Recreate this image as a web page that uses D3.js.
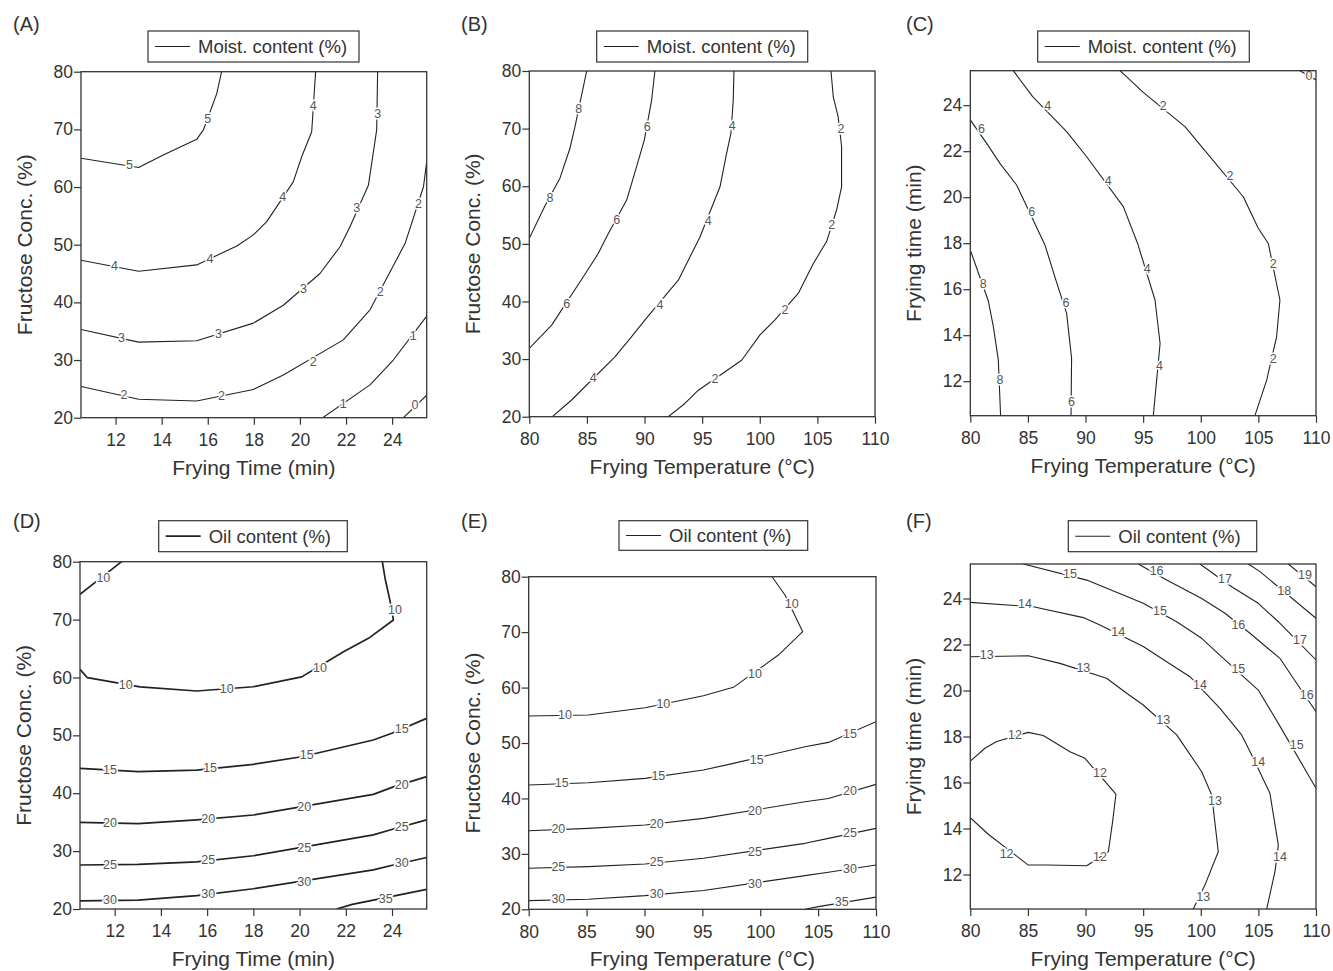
<!DOCTYPE html>
<html>
<head>
<meta charset="utf-8">
<script src="https://cdn.jsdelivr.net/npm/d3@7"></script>
<style>
body { margin: 0; background: #fff; }
svg text { font-family: "Liberation Sans", Arial, sans-serif; fill: #333; }
</style>
</head>
<body>
<svg id="fig" width="1333" height="971"></svg>
<script>
// tick values
var timeTicks = [12, 14, 16, 18, 20, 22, 24];
var tempTicks = [80, 85, 90, 95, 100, 105, 110];
var concTicks = [20, 30, 40, 50, 60, 70, 80];

// contour lines: v = level, p = line points, l = label spots
// (A) moisture, frying time x fructose conc.
var moistTimeConc = [
  {v: 5, p: [[10.5,65.0],[13.0,63.4],[14.07,65.55],[15.52,68.27],[15.81,69.9],[16.39,76.2],[16.6,80]], l: [[12.6,63.8],[16.0,71.9]]},
  {v: 4, p: [[10.5,47.3],[13.0,45.4],[15.52,46.5],[17.26,49.77],[17.98,51.7],[18.56,54.0],[19.71,60.9],[20.08,65.3],[20.51,69.6],[20.68,80]], l: [[11.95,46.4],[16.1,47.6],[19.25,58.3],[20.58,74.2]]},
  {v: 3, p: [[10.5,35.3],[13.0,33.1],[15.52,33.35],[17.98,36.4],[19.28,39.5],[20.87,45.0],[21.74,49.65],[22.17,53.1],[22.97,60.3],[23.33,69.9],[23.37,80]], l: [[12.26,33.9],[16.46,34.6],[20.15,42.3],[22.46,56.5],[23.37,72.8]]},
  {v: 2, p: [[10.5,25.4],[13.0,23.2],[15.52,22.9],[17.98,24.9],[19.28,27.4],[21.88,33.5],[23.04,38.7],[24.56,50.2],[25.36,60.05],[25.5,64.4]], l: [[12.37,24.0],[16.6,23.9],[20.58,29.8],[23.48,41.85],[25.14,57.2]]},
  {v: 1, p: [[20.99,20],[23.04,25.7],[24.05,30.0],[25.5,37.6]], l: [[21.88,22.5],[24.92,34.3]]},
  {v: 0, p: [[24.49,20],[25.5,23.9]], l: [[24.99,22.2]]}
];

// (B) moisture, frying temperature x fructose conc.
var moistTempConc = [
  {v: 8, p: [[80,50.95],[81.36,56.6],[82.66,61.4],[83.53,66.6],[83.96,70.3],[84.98,80]], l: [[81.8,58.0],[84.3,73.4]]},
  {v: 6, p: [[80,31.85],[81.94,35.9],[84.69,44.3],[85.99,48.35],[86.86,51.8],[88.45,57.6],[89.31,63.4],[89.98,68.0],[90.62,75.0],[90.9,80]], l: [[83.24,39.7],[87.58,54.25],[90.24,70.3]]},
  {v: 4, p: [[82.0,20],[83.67,22.9],[87.43,30.4],[88.88,33.9],[90.04,36.8],[92.93,43.7],[94.81,51.2],[96.55,59.9],[97.12,65.7],[97.5,69.2],[97.7,75.0],[97.76,80]], l: [[85.55,26.8],[91.34,39.4],[95.53,54.1],[97.62,70.45]]},
  {v: 2, p: [[92.06,20],[93.5,22.3],[94.67,24.6],[98.43,29.8],[100.02,34.2],[101.32,36.8],[103.34,41.4],[104.65,46.6],[105.8,50.4],[106.67,55.9],[107.1,59.9],[107.1,66.9],[106.8,72.1],[106.38,75.5],[106.18,80]], l: [[96.11,26.6],[102.19,38.5],[106.24,53.3],[107.05,70.05]]}
];

// (C) moisture, frying temperature x frying time
var moistTempTime = [
  {v: 8, p: [[80,17.7],[81.56,15.5],[82.0,14.37],[82.43,12.93],[82.63,10.5]], l: [[81.13,16.25],[82.57,12.05]]},
  {v: 6, p: [[80,23.36],[81.42,22.34],[82.57,21.47],[84.02,20.53],[86.48,17.92],[87.49,16.3],[88.36,14.95],[88.79,13.0],[88.74,10.5]], l: [[80.98,23.0],[85.32,19.38],[88.3,15.43],[88.79,11.1]]},
  {v: 4, p: [[83.73,25.5],[85.41,24.37],[88.36,22.85],[90.1,21.76],[93.28,19.59],[94.52,17.99],[96.03,15.53],[96.47,13.64],[95.88,10.5]], l: [[86.71,24.0],[91.98,20.7],[95.36,16.88],[96.41,12.67]]},
  {v: 2, p: [[92.99,25.5],[95.01,24.56],[98.63,23.07],[100.07,22.2],[103.69,20.02],[104.99,18.65],[105.86,17.99],[106.87,15.53],[106.58,13.93],[105.72,12.05],[104.7,10.5]], l: [[96.75,24.0],[102.53,20.93],[106.29,17.1],[106.29,12.96]]},
  {v: 0, p: [[108.6,25.5],[110,25.1]], l: [[109.4,25.3]]}
];

// (D) oil, frying time x fructose conc.
var oilTimeConc = [
  {v: 10, p: [[10.5,74.36],[12.3,80]], l: [[11.51,77.2]]},
  {v: 10, p: [[10.5,61.4],[10.82,59.96],[13.1,58.36],[15.55,57.66],[18.0,58.4],[20.09,60.1],[21.9,64.46],[22.98,66.76],[24.06,69.93],[23.92,73.1],[23.7,77.1],[23.58,80]], l: [[12.48,58.8],[16.85,58.0],[20.88,61.7],[24.13,71.65]]},
  {v: 15, p: [[10.5,44.3],[13.02,43.73],[15.55,44.0],[18.0,45.0],[20.09,46.3],[23.19,49.2],[23.99,50.35],[25.5,52.94]], l: [[11.8,44.1],[16.13,44.4],[20.31,46.7],[24.42,51.1]]},
  {v: 20, p: [[10.5,34.98],[13.02,34.75],[15.55,35.4],[18.0,36.24],[23.19,39.8],[24.06,41.1],[25.5,42.87]], l: [[11.8,34.98],[16.05,35.67],[20.2,37.7],[24.42,41.5]]},
  {v: 25, p: [[10.5,27.6],[13.02,27.7],[15.55,28.15],[18.0,29.2],[23.19,32.8],[24.06,33.83],[25.5,35.4]], l: [[11.8,27.7],[16.05,28.45],[20.2,30.6],[24.42,34.2]]},
  {v: 30, p: [[10.5,21.4],[13.02,21.55],[15.55,22.3],[18.0,23.5],[23.19,26.75],[24.06,27.6],[25.5,28.9]], l: [[11.8,21.55],[16.05,22.7],[20.2,24.76],[24.42,28.06]]},
  {v: 35, p: [[21.6,20],[22.28,20.8],[25.5,23.4]], l: [[23.73,21.86]]}
];

// (E) oil, frying temperature x fructose conc.
var oilTempConc = [
  {v: 10, p: [[101.02,80],[102.14,76.7],[103.67,70.08],[101.57,65.87],[97.68,60.04],[95.09,58.53],[90.05,56.37],[85.15,55.05],[80,54.87]], l: [[102.72,75.07],[99.55,62.56],[91.63,57.15],[83.14,55.05]]},
  {v: 15, p: [[80,42.42],[85.15,42.84],[90.05,43.62],[95.09,45.12],[97.68,46.33],[103.87,49.33],[105.89,50.11],[110,53.84]], l: [[82.85,42.84],[91.2,44.04],[99.7,46.93],[107.76,51.74]]},
  {v: 20, p: [[80,34.18],[85.15,34.6],[90.05,35.2],[95.09,36.4],[103.87,39.4],[105.89,40.0],[110,42.54]], l: [[82.56,34.48],[91.06,35.5],[99.55,37.73],[107.76,41.34]]},
  {v: 25, p: [[80,27.4],[85.15,27.7],[90.05,28.18],[95.09,29.2],[103.87,31.9],[105.89,32.8],[110,34.6]], l: [[82.56,27.7],[91.06,28.6],[99.55,30.4],[107.76,33.9]]},
  {v: 30, p: [[80,21.56],[85.15,21.8],[90.05,22.47],[95.09,23.4],[103.87,26.07],[105.89,26.67],[110,28.0]], l: [[82.56,21.86],[91.06,22.9],[99.55,24.63],[107.76,27.27]]},
  {v: 35, p: [[103.87,20],[105.02,20.48],[110,22.2]], l: [[107.04,21.4]]}
];

// (F) oil, frying temperature x frying time
var oilTempTime = [
  {v: 12, p: [[80,16.93],[81.27,17.49],[82.29,17.78],[85.03,18.18],[86.33,18.04],[88.65,17.34],[89.95,17.05],[92.64,15.49],[92.35,14.3],[91.98,12.99],[90.1,12.38],[86.62,12.41],[85.03,12.41],[81.56,13.75],[80,14.47]], l: [[83.88,18.1],[91.25,16.44],[91.25,12.78],[83.15,12.92]]},
  {v: 13, p: [[80,21.47],[85.03,21.51],[87.78,21.18],[91.83,20.53],[93.57,19.88],[95.01,19.37],[97.91,18.07],[100.08,16.47],[100.95,15.46],[101.52,12.99],[100.36,11.54],[99.35,10.5]], l: [[81.42,21.54],[89.81,20.99],[96.75,18.72],[101.23,15.2],[100.22,11.04]]},
  {v: 14, p: [[80,23.83],[85.47,23.64],[89.81,23.17],[91.25,22.85],[95.01,21.91],[97.04,21.25],[99.06,20.6],[101.67,19.22],[103.55,18.07],[104.56,17.05],[106.0,15.53],[106.73,13.28],[106.44,12.12],[105.72,10.5]], l: [[84.74,23.79],[92.84,22.56],[99.93,20.24],[104.99,16.91],[106.87,12.78]]},
  {v: 15, p: [[84.6,25.5],[90.1,24.8],[95.01,23.79],[97.91,22.99],[100.08,22.27],[101.96,21.4],[104.99,20.02],[106.73,18.57],[110,15.75]], l: [[88.65,25.09],[96.46,23.46],[103.26,20.96],[108.32,17.63]]},
  {v: 16, p: [[94.58,25.5],[97.04,24.8],[100.08,24.0],[102.1,23.36],[104.27,22.49],[106.87,21.4],[108.03,20.53],[110,19.08]], l: [[96.17,25.2],[103.26,22.88],[109.19,19.83]]},
  {v: 17, p: [[99.93,25.5],[102.68,24.51],[104.99,23.79],[106.73,22.99],[110,21.33]], l: [[102.1,24.88],[108.61,22.2]]},
  {v: 18, p: [[104.13,25.5],[105.14,25.17],[110,23.14]], l: [[107.25,24.33]]},
  {v: 19, p: [[107.6,25.5],[110,24.51]], l: [[109.04,25.05]]}
];

// panel layout
var panels = [
  {tag: "(A)", data: moistTimeConc, xd: [10.5, 25.5], yd: [20, 80], xt: timeTicks, yt: concTicks,
   xl: "Frying Time (min)", yl: "Fructose Conc. (%)", leg: "Moist. content (%)",
   box: [81, 71.7, 426.7, 417.7], lg: [148, 31, 211, 31], tp: [13, 31], lw: 1.1},
  {tag: "(B)", data: moistTempConc, xd: [80, 110], yd: [20, 80], xt: tempTicks, yt: concTicks,
   xl: "Frying Temperature (°C)", yl: "Fructose Conc. (%)", leg: "Moist. content (%)",
   box: [529.3, 71, 875, 416.7], lg: [596.7, 31, 211, 31], tp: [461, 31], lw: 1.1},
  {tag: "(C)", data: moistTempTime, xd: [80, 110], yd: [10.5, 25.5], xt: tempTicks, yt: timeTicks,
   xl: "Frying Temperature (°C)", yl: "Frying time (min)", leg: "Moist. content (%)",
   box: [970.3, 70.7, 1316, 415.7], lg: [1037.7, 31, 211.6, 31], tp: [906, 31], lw: 1.1},
  {tag: "(D)", data: oilTimeConc, xd: [10.5, 25.5], yd: [20, 80], xt: timeTicks, yt: concTicks,
   xl: "Frying Time (min)", yl: "Fructose Conc. (%)", leg: "Oil content (%)",
   box: [80, 561.7, 426.7, 909], lg: [158.7, 520.7, 188.6, 31], tp: [13, 528], lw: 1.7},
  {tag: "(E)", data: oilTempConc, xd: [80, 110], yd: [20, 80], xt: tempTicks, yt: concTicks,
   xl: "Frying Temperature (°C)", yl: "Fructose Conc. (%)", leg: "Oil content (%)",
   box: [528.7, 576.7, 876, 909.3], lg: [619, 520.7, 188.7, 29.6], tp: [461, 528], lw: 1.1},
  {tag: "(F)", data: oilTempTime, xd: [80, 110], yd: [10.5, 25.5], xt: tempTicks, yt: timeTicks,
   xl: "Frying Temperature (°C)", yl: "Frying time (min)", leg: "Oil content (%)",
   box: [970.3, 564, 1316, 909], lg: [1068.3, 520.7, 188.4, 31], tp: [906, 528], lw: 1.1}
];

var svg = d3.select("#fig");

panels.forEach(function(pn, i) {
  var l = pn.box[0], t = pn.box[1], r = pn.box[2], b = pn.box[3];
  var x = d3.scaleLinear().domain(pn.xd).range([l, r]);
  var y = d3.scaleLinear().domain(pn.yd).range([b, t]);
  var g = svg.append("g");

  // clip the contours to the plot box
  g.append("clipPath").attr("id", "clip" + i)
    .append("rect").attr("x", l).attr("y", t).attr("width", r - l).attr("height", b - t);

  var line = d3.line().x(function(d) { return x(d[0]); }).y(function(d) { return y(d[1]); });

  var cg = g.append("g").attr("clip-path", "url(#clip" + i + ")");
  cg.selectAll("path.contour")
    .data(pn.data)
    .join("path")
      .attr("class", "contour")
      .attr("d", function(d) { return line(d.p); })
      .attr("fill", "none")
      .attr("stroke", "#222")
      .attr("stroke-width", pn.lw)
      .attr("stroke-linejoin", "round");

  // contour labels, white halo breaks the line
  var labs = [];
  pn.data.forEach(function(c) { c.l.forEach(function(q) { labs.push({v: c.v, x: q[0], y: q[1]}); }); });
  cg.selectAll("text.lab")
    .data(labs)
    .join("text")
      .attr("class", "lab")
      .attr("x", function(d) { return x(d.x); })
      .attr("y", function(d) { return y(d.y); })
      .attr("dy", "0.35em")
      .attr("text-anchor", "middle")
      .style("font-size", "12.5px")
      .style("fill", "#555")
      .attr("stroke", "#fff")
      .attr("stroke-width", 3)
      .attr("paint-order", "stroke")
      .text(function(d) { return d.v; });

  // axes
  var ya = g.append("g").attr("transform", "translate(" + l + ",0)")
    .call(d3.axisLeft(y).tickValues(pn.yt).tickSize(7).tickPadding(1).tickSizeOuter(0));
  var xa = g.append("g").attr("transform", "translate(0," + b + ")")
    .call(d3.axisBottom(x).tickValues(pn.xt).tickSize(7).tickPadding(9).tickSizeOuter(0));
  [ya, xa].forEach(function(a) {
    a.select(".domain").remove();
    a.selectAll(".tick line").attr("stroke", "#333").attr("stroke-width", 1.2);
    a.selectAll(".tick text").style("font-size", "17.5px").style("fill", "#333")
      .attr("font-family", null);
  });

  // frame
  g.append("rect")
    .attr("x", l).attr("y", t).attr("width", r - l).attr("height", b - t)
    .attr("fill", "none").attr("stroke", "#333").attr("stroke-width", 1.3);

  // axis titles
  g.append("text")
    .attr("x", (l + r) / 2).attr("y", b + 57)
    .attr("text-anchor", "middle")
    .style("font-size", "21px")
    .text(pn.xl);
  g.append("text")
    .attr("transform", "translate(" + (l - 49) + "," + ((t + b) / 2) + ") rotate(-90)")
    .attr("text-anchor", "middle")
    .style("font-size", "21px")
    .text(pn.yl);

  // panel tag
  g.append("text").attr("x", pn.tp[0]).attr("y", pn.tp[1])
    .style("font-size", "20px").text(pn.tag);

  // legend
  var lx = pn.lg[0], ly = pn.lg[1], lwid = pn.lg[2], lh = pn.lg[3];
  g.append("rect").attr("x", lx).attr("y", ly).attr("width", lwid).attr("height", lh)
    .attr("fill", "#fff").attr("stroke", "#333").attr("stroke-width", 1.2);
  g.append("line")
    .attr("x1", lx + 7).attr("x2", lx + 42)
    .attr("y1", ly + lh / 2).attr("y2", ly + lh / 2)
    .attr("stroke", "#222").attr("stroke-width", pn.lw);
  g.append("text")
    .attr("x", lx + 50).attr("y", ly + lh / 2)
    .attr("dy", "0.36em")
    .style("font-size", "18.5px")
    .text(pn.leg);
});
</script>
</body>
</html>
